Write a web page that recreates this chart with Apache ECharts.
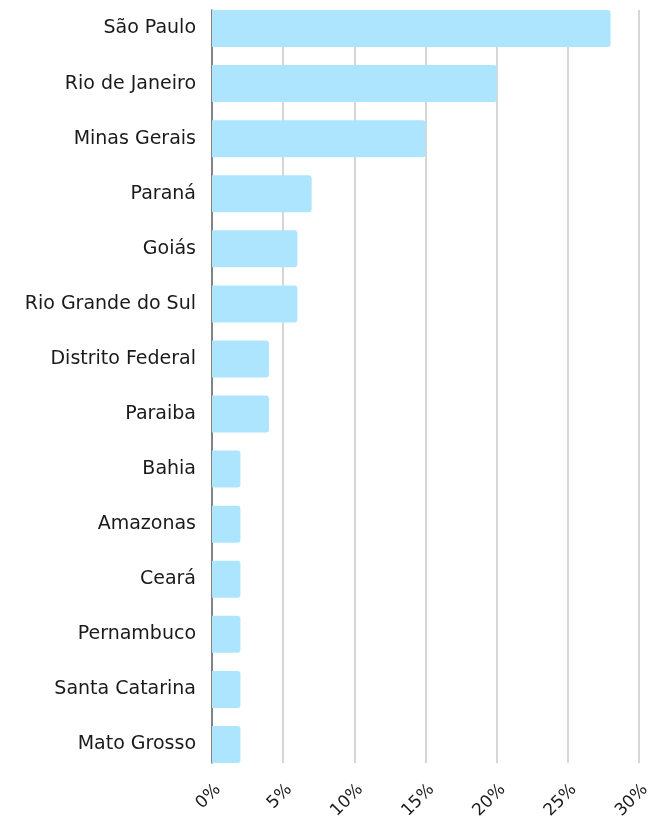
<!DOCTYPE html>
<html>
<head>
<meta charset="utf-8">
<script src="https://cdn.jsdelivr.net/npm/echarts@6/dist/echarts.min.js"></script>
<style>
  html, body { margin: 0; padding: 0; background: #fff; }
  #chart { width: 659px; height: 822px; }
</style>
</head>
<body>
<div id="chart"></div>
<script>
// estados, de cima para baixo
const states = [
  "São Paulo", "Rio de Janeiro", "Minas Gerais", "Paraná", "Goiás",
  "Rio Grande do Sul", "Distrito Federal", "Paraiba", "Bahia", "Amazonas",
  "Ceará", "Pernambuco", "Santa Catarina", "Mato Grosso"
];
// participação em %
const shares = [28, 20, 15, 7, 6, 6, 4, 4, 2, 2, 2, 2, 2, 2];
const ticks = [0, 5, 10, 15, 20, 25, 30];

const font = "'DejaVu Sans', sans-serif";

let ec = echarts.init(document.getElementById("chart"));
ec.setOption({
  animation: false,
  // grid 0: eixos e linhas de grade, grid 1: barras e nomes
  grid: [
    { left: 212, right: 20, top: 10, bottom: 59 },
    { left: 212, right: 20, top: 1, bottom: 50 }
  ],
  xAxis: [
    {
      type: "value",
      gridIndex: 0,
      min: ticks[0],
      max: ticks[ticks.length - 1],
      interval: 5,
      axisLine: { show: false },
      axisTick: { show: false },
      splitLine: { lineStyle: { color: "#c8c8c8", width: 1.5 } },
      axisLabel: {
        formatter: "{value}%",
        rotate: 45,
        verticalAlign: "top",
        margin: 18,
        color: "#1a1a1a",
        fontSize: 17,
        fontFamily: font
      }
    },
    {
      type: "value",
      gridIndex: 1,
      min: ticks[0],
      max: ticks[ticks.length - 1],
      show: false
    }
  ],
  yAxis: [
    {
      type: "category",
      gridIndex: 0,
      inverse: true,
      data: states,
      axisLine: { show: true, lineStyle: { color: "#666", width: 1.5 } },
      axisTick: { show: false },
      axisLabel: { show: false }
    },
    {
      type: "category",
      gridIndex: 1,
      inverse: true,
      data: states,
      axisLine: { show: false },
      axisTick: { show: false },
      axisLabel: {
        color: "#1a1a1a",
        fontSize: 19,
        margin: 16,
        fontFamily: font
      }
    }
  ],
  series: [
    {
      type: "bar",
      xAxisIndex: 1,
      yAxisIndex: 1,
      data: shares,
      barWidth: 37,
      itemStyle: {
        color: "#ade5ff",
        borderRadius: [0, 3, 3, 0]
      }
    }
  ]
});
</script>
</body>
</html>
